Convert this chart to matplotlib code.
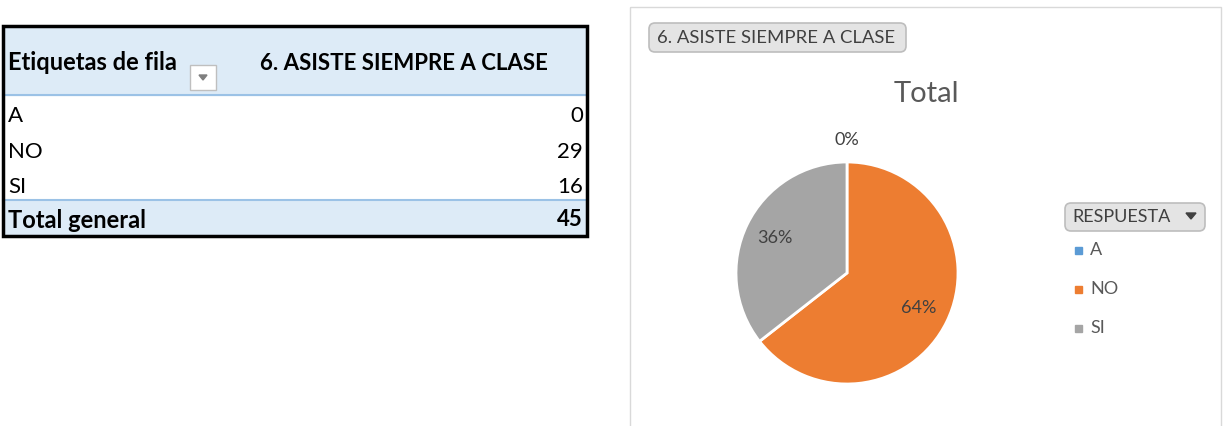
import numpy as np
import matplotlib
matplotlib.use("Agg")
import matplotlib.pyplot as plt
from matplotlib.patches import Rectangle, FancyBboxPatch, Polygon

plt.rcParams['font.family'] = ['Lato', 'DejaVu Sans']

# data
categorias = ["A", "NO", "SI"]
valores = [0, 29, 16]
total_label = "Total general"
pregunta = "6. ASISTE SIEMPRE A CLASE"
colores = ["#5B9BD5", "#ED7D31", "#A5A5A5"]

W, H = 1223, 426
fig = plt.figure(figsize=(W / 100, H / 100), dpi=100)

# overlay axes in pixel coordinates
bg = fig.add_axes([0, 0, 1, 1])
bg.set_xlim(0, W)
bg.set_ylim(H, 0)
bg.axis("off")

# ---- pivot table ----
tx0, tx1, ty0, ty1 = 3, 587, 26, 236
azul = "#DDEBF7"
bg.add_patch(Rectangle((tx0, ty0), tx1 - tx0, 69, color=azul, zorder=1))
bg.add_patch(Rectangle((tx0, 200), tx1 - tx0, ty1 - 200, color=azul, zorder=1))
bg.plot([tx0, tx1], [95, 95], color="#9BC2E6", lw=1.5, zorder=2)
bg.plot([tx0, tx1], [200, 200], color="#9BC2E6", lw=1.5, zorder=2)
bg.add_patch(Rectangle((tx0, ty0), tx1 - tx0, ty1 - ty0, fill=False,
                       ec="black", lw=2.5, zorder=3))

fs = 17
bg.text(8, 63, "Etiquetas de fila", fontsize=fs, fontweight="bold",
        va="center", ha="left", color="black")
bg.add_patch(Rectangle((190, 65), 26, 25, fc="white", ec="#BFBFBF", lw=1, zorder=2))
bg.add_patch(Polygon([(199, 75), (207, 75), (203, 80)], closed=True,
                     color="#7F7F7F", zorder=3))
bg.text(404, 63, pregunta, fontsize=16, fontweight="bold",
        va="center", ha="center", color="black")

row_y = [116, 152, 187]
for cat, val, y in zip(categorias, valores, row_y):
    bg.text(8, y, cat, fontsize=16, va="center", ha="left")
    bg.text(583, y, str(val), fontsize=16, va="center", ha="right")
bg.text(8, 220, total_label, fontsize=fs, fontweight="bold", va="center", ha="left")
bg.text(583, 220, str(sum(valores)), fontsize=16, fontweight="bold",
        va="center", ha="right")

# ---- chart area ----
bg.add_patch(Rectangle((630, 7), 591, 430, fill=False, ec="#D9D9D9", lw=1))

btn = FancyBboxPatch((649, 23), 257, 29, boxstyle="round,pad=0,rounding_size=6",
                     fc="#E4E4E4", ec="#BDBDBD", lw=1.2)
bg.add_patch(btn)
bg.text(776, 38, pregunta, fontsize=13.3, va="center", ha="center", color="#404040")

bg.text(926, 94, "Total", fontsize=21, va="center", ha="center", color="#595959")

btn2 = FancyBboxPatch((1065, 203), 140, 28, boxstyle="round,pad=0,rounding_size=6",
                      fc="#E4E4E4", ec="#BDBDBD", lw=1.2)
bg.add_patch(btn2)
bg.text(1072, 217, "RESPUESTA", fontsize=13, va="center", ha="left", color="#404040")
bg.add_patch(Polygon([(1186, 213), (1196, 213), (1191, 219)], closed=True,
                     color="#404040"))

leg_y = [250, 289, 328]
for cat, col, y in zip(categorias, colores, leg_y):
    bg.add_patch(Rectangle((1075, y - 3.5), 7, 7, color=col))
    bg.text(1090, y, cat, fontsize=13, va="center", ha="left", color="#595959")

# ---- pie ----
cx, cy, r = 847, 273, 111
k = 1.35
side = 2 * r * k
ax = fig.add_axes([(cx - side / 2) / W, (H - cy - side / 2) / H, side / W, side / H])
wedges, texts, autotexts = ax.pie(
    valores, colors=colores, startangle=90, counterclock=False,
    autopct=lambda p: f"{p:.0f}%", pctdistance=0.72,
    wedgeprops=dict(edgecolor="white", linewidth=2),
    textprops=dict(fontsize=13, color="#404040"))
for w, t, v in zip(wedges, autotexts, valores):
    if v == 0:
        ang = np.deg2rad((w.theta1 + w.theta2) / 2)
        t.set_position((1.2 * np.cos(ang), 1.2 * np.sin(ang)))
ax.set_xlim(-k, k)
ax.set_ylim(-k, k)
ax.axis("off")

fig.savefig("out.png", dpi=100)
